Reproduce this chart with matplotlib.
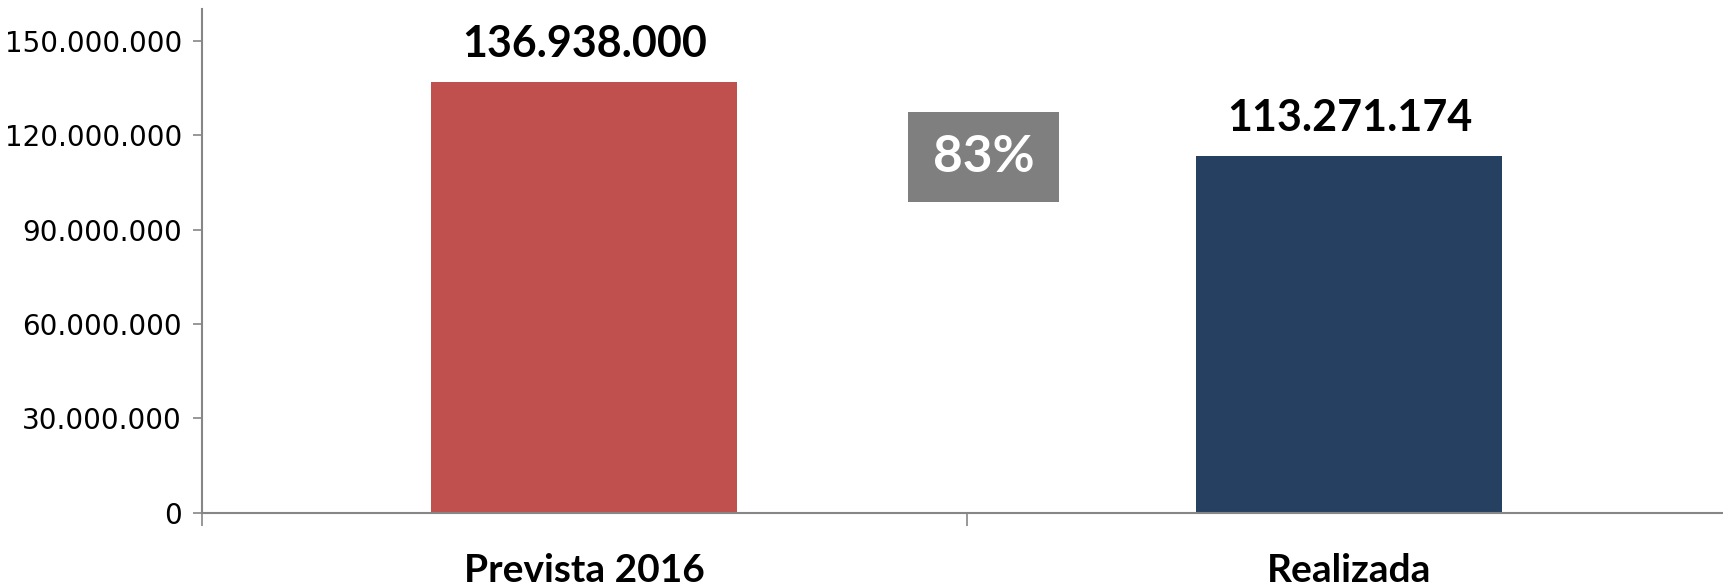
import matplotlib
matplotlib.use('Agg')
import matplotlib.pyplot as plt
from matplotlib.patches import Rectangle
from matplotlib.ticker import FuncFormatter

# data
categorias = ['Prevista 2016', 'Realizada']
valores = [136938000, 113271174]
cores = ['#C0504D', '#254061']
percentual = '83%'
y_ticks = [0, 30000000, 60000000, 90000000, 120000000, 150000000]

eixo_cor = '#868686'


def fmt_pontos(v, pos=None):
    return f'{v:,.0f}'.replace(',', '.')


fig = plt.figure(figsize=(17.23, 5.86), dpi=100)
ax = fig.add_axes([0.1172, 0.1246, 0.888, 0.860])

x = list(range(len(categorias)))
ax.bar(x, valores, width=0.4, color=cores, zorder=2)

# data labels above the bars
for xi, v in zip(x, valores):
    ax.annotate(fmt_pontos(v), (xi, v), xytext=(0, 18), textcoords='offset points',
                ha='center', va='baseline', fontsize=31, fontweight='bold',
                family='Lato', color='black')

ax.set_xlim(-0.5, 1.5)
ax.set_ylim(0, 160000000)

ax.set_yticks(y_ticks)
ax.yaxis.set_major_formatter(FuncFormatter(fmt_pontos))
ax.tick_params(axis='y', direction='out', length=6.5, width=1.2, color=eixo_cor,
               labelsize=20, pad=8)

# category separators as major ticks, labels on minor ticks
ax.set_xticks([-0.5, 0.5, 1.5])
ax.set_xticklabels([])
ax.set_xticks(x, minor=True)
ax.set_xticklabels(categorias, minor=True, fontsize=28, fontweight='bold', family='Lato')
ax.tick_params(axis='x', which='major', direction='out', length=9.4, width=1.2, color=eixo_cor)
ax.tick_params(axis='x', which='minor', length=0, pad=29)

for s in ['top', 'right']:
    ax.spines[s].set_visible(False)
for s in ['left', 'bottom']:
    ax.spines[s].set_color(eixo_cor)
    ax.spines[s].set_linewidth(1.5)

# percent box between the bars
caixa = Rectangle((0.4614, 0.617), 0.0987, 0.1786, transform=ax.transAxes,
                  facecolor='#7F7F7F', edgecolor='none', zorder=3)
ax.add_patch(caixa)
ax.text(0.4614 + 0.0987 / 2, 0.617 + 0.1786 / 2, percentual, transform=ax.transAxes,
        ha='center', va='center', fontsize=37, fontweight='bold', family='Lato',
        color='white', zorder=4)

fig.savefig('out.png', dpi=100)
